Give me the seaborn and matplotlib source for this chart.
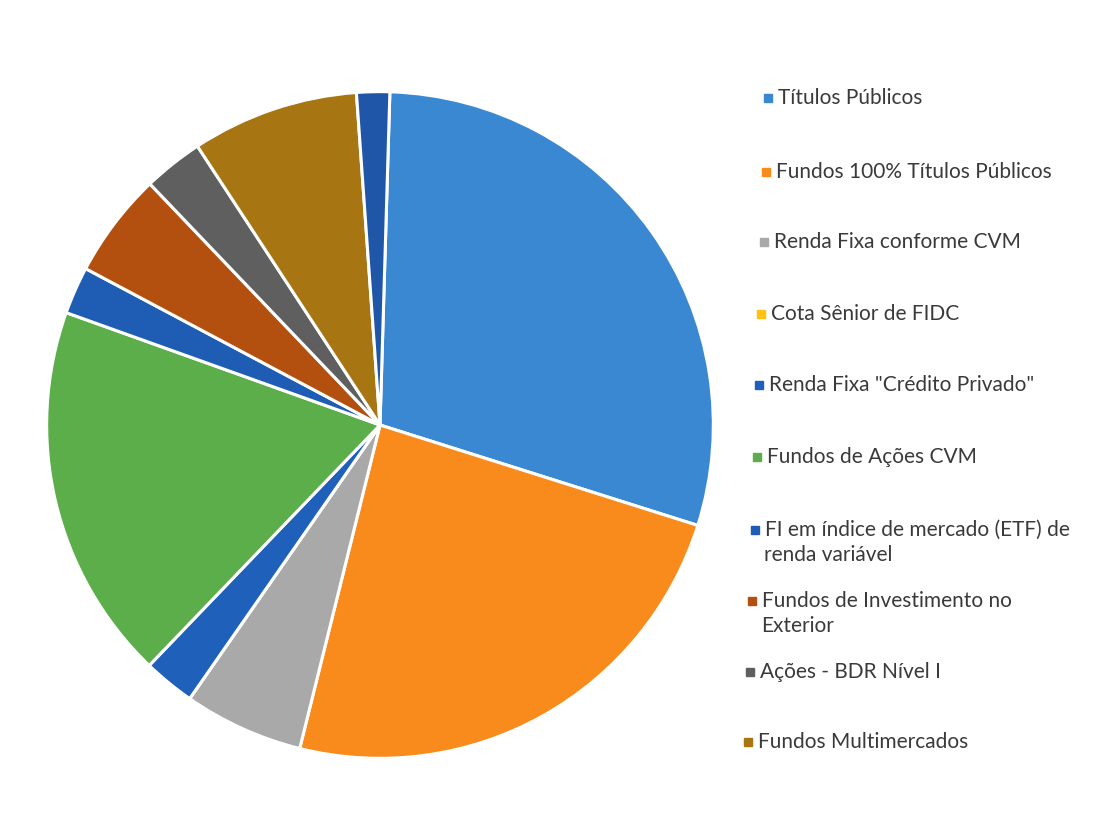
import matplotlib
matplotlib.use("Agg")
import matplotlib.pyplot as plt
import seaborn as sns

categories = [
    "Títulos Públicos",
    "Fundos 100% Títulos Públicos",
    "Renda Fixa conforme CVM",
    "Cota Sênior de FIDC",
    "Renda Fixa \"Crédito Privado\"",
    "Fundos de Ações CVM",
    "FI em índice de mercado (ETF) de\nrenda variável",
    "Fundos de Investimento no\nExterior",
    "Ações - BDR Nível I",
    "Fundos Multimercados",
    "Outros",
]
values = [29.4, 24.0, 5.8, 0.0, 2.5, 18.3, 2.3, 5.1, 2.9, 8.1, 1.6]
colors = ["#3A88D2", "#F98B1C", "#A9A9A9", "#FFC20E", "#1F60BA", "#5BAE4A",
          "#1F5DB5", "#B4500F", "#5F5F5F", "#A77613", "#1F56A8"]
legend_count = 10

sns.set_theme(style="white")
plt.rcParams["font.family"] = ["Lato", "DejaVu Sans"]

fig = plt.figure(figsize=(11.02, 8.36), dpi=100)
ax = fig.add_axes([40 / 1102, (836 - 425 - 340) / 836, 680 / 1102, 680 / 836])
ax.pie(values, colors=colors, startangle=88.3, counterclock=False,
       wedgeprops=dict(edgecolor="white", linewidth=2.2))
ax.set_xlim(-1.02, 1.02)
ax.set_ylim(-1.02, 1.02)
ax.set_aspect("equal")
ax.axis("off")

# legend (slightly tilted as in the scanned reference)
ys = [98, 172, 242, 314, 385, 457, 530, 601, 672, 742]
fs = 15
for i in range(legend_count):
    y = ys[i]
    x = 768 - (y - 98) * (20 / 644)
    fig.patches.append(plt.Rectangle(((x - 4) / 1102, 1 - (y + 4) / 836), 8 / 1102, 8 / 836,
                                     transform=fig.transFigure, color=colors[i]))
    lines = categories[i].split("\n")
    for j, line in enumerate(lines):
        fig.text((x + 10 - j * 1) / 1102, 1 - (y + j * 25) / 836, line, fontsize=fs,
                 color="#3a3a3a", va="center", ha="left")

fig.savefig("out.png", dpi=100, facecolor="white")
